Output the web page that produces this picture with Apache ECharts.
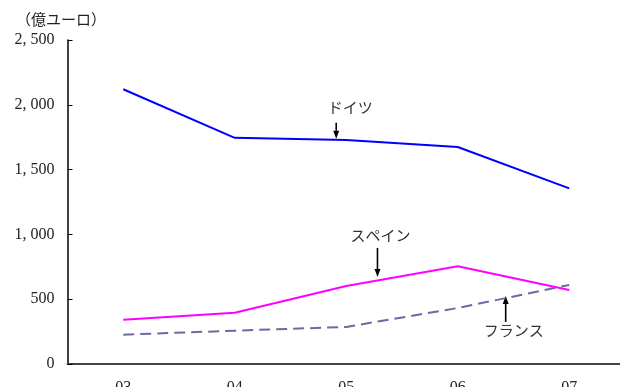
<!DOCTYPE html>
<html>
<head>
<meta charset="utf-8">
<script src="https://cdn.jsdelivr.net/npm/echarts@6/dist/echarts.min.js"></script>
<style>
  html, body { margin: 0; padding: 0; background: #fff; }
  #chart { width: 620px; height: 387px; }
</style>
</head>
<body>
<div id="chart"></div>
<script>
// Years (2003–2007) and values in 億ユーロ
const years = ['03', '04', '05', '06', '07'];
const germany = [2120, 1745, 1728, 1674, 1355];
const spain = [342, 396, 602, 754, 571];
const france = [226, 257, 286, 432, 610];
const yTicks = [0, 500, 1000, 1500, 2000, 2500];

const unitLabel = '（億ユーロ）';

// Callout arrows: text, fractional category index and value of the arrow tip
const callouts = [
  { text: 'ドイツ', idx: 1.91, value: 1738, dir: 'down', len: 16, dx: 14, dy: -31 },
  { text: 'スペイン', idx: 2.28, value: 671, dir: 'down', len: 29, dx: 3, dy: -42 },
  { text: 'フランス', idx: 3.43, value: 525, dir: 'up', len: 26, dx: 8, dy: 34 }
];

const serif = '"Liberation Serif", "DejaVu Serif", serif';
const jp = '"Noto Sans CJK JP", sans-serif';

function fmt(v) {
  if (v >= 1000) {
    const s = String(v);
    return s.slice(0, s.length - 3) + ', ' + s.slice(-3);
  }
  return String(v);
}

const chart = echarts.init(document.getElementById('chart'));
chart.setOption({
  animation: false,
  backgroundColor: '#fff',
  title: {
    text: unitLabel,
    left: 11,
    top: 7,
    textStyle: { fontFamily: jp, fontSize: 15, fontWeight: 'normal', color: '#222' }
  },
  grid: {
    left: 67.5, right: -5, top: 40, bottom: 23,
    containLabel: false,
    outerBoundsMode: 'none'
  },
  xAxis: {
    type: 'category',
    data: years,
    boundaryGap: true,
    axisLine: { lineStyle: { color: '#444', width: 1.8 } },
    axisTick: { inside: true, length: 5, lineStyle: { color: '#444', width: 1 } },
    axisLabel: { fontFamily: serif, fontSize: 16, color: '#222', margin: 16 }
  },
  yAxis: {
    type: 'value',
    min: yTicks[0],
    max: yTicks[yTicks.length - 1],
    interval: 500,
    splitLine: { show: false },
    axisLine: { show: true, lineStyle: { color: '#000', width: 1.5 } },
    axisTick: { show: true, inside: true, length: 5, lineStyle: { color: '#000', width: 1 } },
    axisLabel: { fontFamily: serif, fontSize: 16, color: '#222', margin: 13, formatter: fmt }
  },
  series: [
    { name: 'ドイツ', type: 'line', data: germany, showSymbol: false,
      lineStyle: { color: '#0000ff', width: 2 } },
    { name: 'スペイン', type: 'line', data: spain, showSymbol: false,
      lineStyle: { color: '#ff00ff', width: 2 } },
    { name: 'フランス', type: 'line', data: france, showSymbol: false,
      lineStyle: { color: '#6a6aa4', width: 2, type: [11, 6] } }
  ]
});

// Draw the callout arrows and their labels at data positions
const x0 = chart.convertToPixel({ xAxisIndex: 0 }, years[0]);
const x1 = chart.convertToPixel({ xAxisIndex: 0 }, years[1]);
const step = x1 - x0;
const elements = [];
callouts.forEach(function (c) {
  const tx = x0 + c.idx * step;
  const ty = chart.convertToPixel({ yAxisIndex: 0 }, c.value);
  const startY = c.dir === 'down' ? ty - c.len : ty + c.len;
  const headBase = c.dir === 'down' ? ty - 8 : ty + 8;
  elements.push({
    type: 'line',
    shape: { x1: tx, y1: startY, x2: tx, y2: headBase },
    style: { stroke: '#000', lineWidth: 1.6 }
  });
  elements.push({
    type: 'polygon',
    shape: { points: [[tx - 3, headBase], [tx + 3, headBase], [tx, ty]] },
    style: { fill: '#000' }
  });
  elements.push({
    type: 'text',
    x: tx + c.dx,
    y: ty + c.dy,
    style: {
      text: c.text,
      fontFamily: jp,
      fontSize: 15,
      fill: '#333',
      align: 'center',
      verticalAlign: 'middle'
    }
  });
});
chart.setOption({ graphic: elements });
</script>
</body>
</html>
